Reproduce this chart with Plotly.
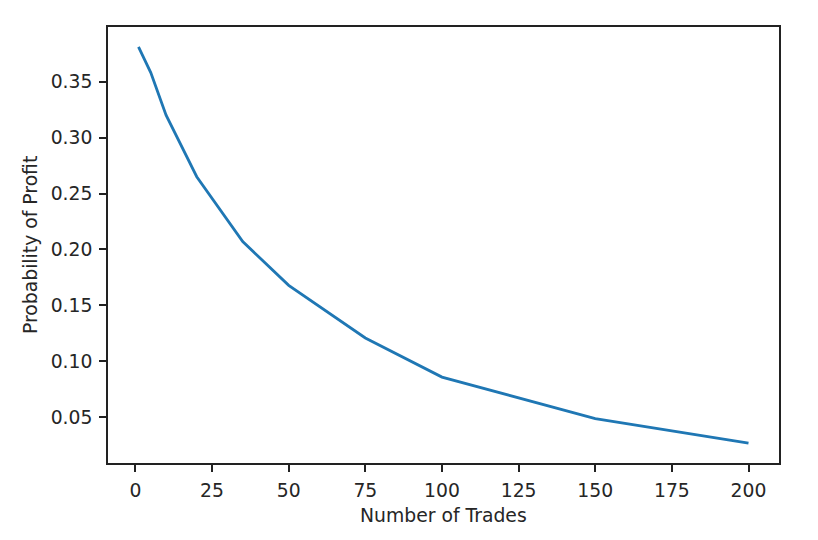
import plotly.graph_objects as go

num_trades = [1, 5, 10, 20, 35, 50, 75, 100, 150, 200]
prob_profit = [0.381, 0.358, 0.320, 0.265, 0.207, 0.168, 0.121, 0.086, 0.049, 0.027]
x_ticks = [0, 25, 50, 75, 100, 125, 150, 175, 200]
y_ticks = [0.05, 0.10, 0.15, 0.20, 0.25, 0.30, 0.35]
y_tick_labels = ["0.05", "0.10", "0.15", "0.20", "0.25", "0.30", "0.35"]

FONT = "DejaVu Sans"
FS = 18.8

fig = go.Figure()
fig.add_trace(go.Scatter(x=num_trades, y=prob_profit, mode="lines",
                         line=dict(color="#1f77b4", width=2.8), showlegend=False))

xr = max(num_trades) - min(num_trades)
yr = max(prob_profit) - min(prob_profit)

axis_common = dict(showgrid=False, zeroline=False, showline=True, mirror=True,
                   linecolor="#222222", linewidth=1.5, ticks="outside", ticklen=7,
                   tickwidth=1.5, tickcolor="#222222",
                   tickfont=dict(family=FONT, size=FS, color="#262626"))

fig.update_layout(
    width=818, height=540,
    margin=dict(l=100, r=47, t=19, b=85),
    paper_bgcolor="white", plot_bgcolor="white",
    font=dict(family=FONT, size=FS, color="#262626"),
    xaxis=dict(range=[min(num_trades) - 0.05 * xr, max(num_trades) + 0.05 * xr],
               tickvals=x_ticks, ticklabelstandoff=3, **axis_common),
    yaxis=dict(range=[min(prob_profit) - 0.05 * yr, max(prob_profit) + 0.05 * yr],
               tickvals=y_ticks, ticktext=y_tick_labels, ticklabelstandoff=3, **axis_common),
    annotations=[
        dict(text="Number of Trades", xref="paper", yref="paper", x=0.5, y=0,
             yshift=-52, xanchor="center", yanchor="middle", showarrow=False,
             font=dict(family=FONT, size=FS, color="#262626")),
        dict(text="Probability of Profit", xref="paper", yref="paper", x=0, y=0.5,
             xshift=-78, xanchor="center", yanchor="middle", textangle=-90, showarrow=False,
             font=dict(family=FONT, size=FS, color="#262626")),
    ],
)

fig.write_html("out.html")
